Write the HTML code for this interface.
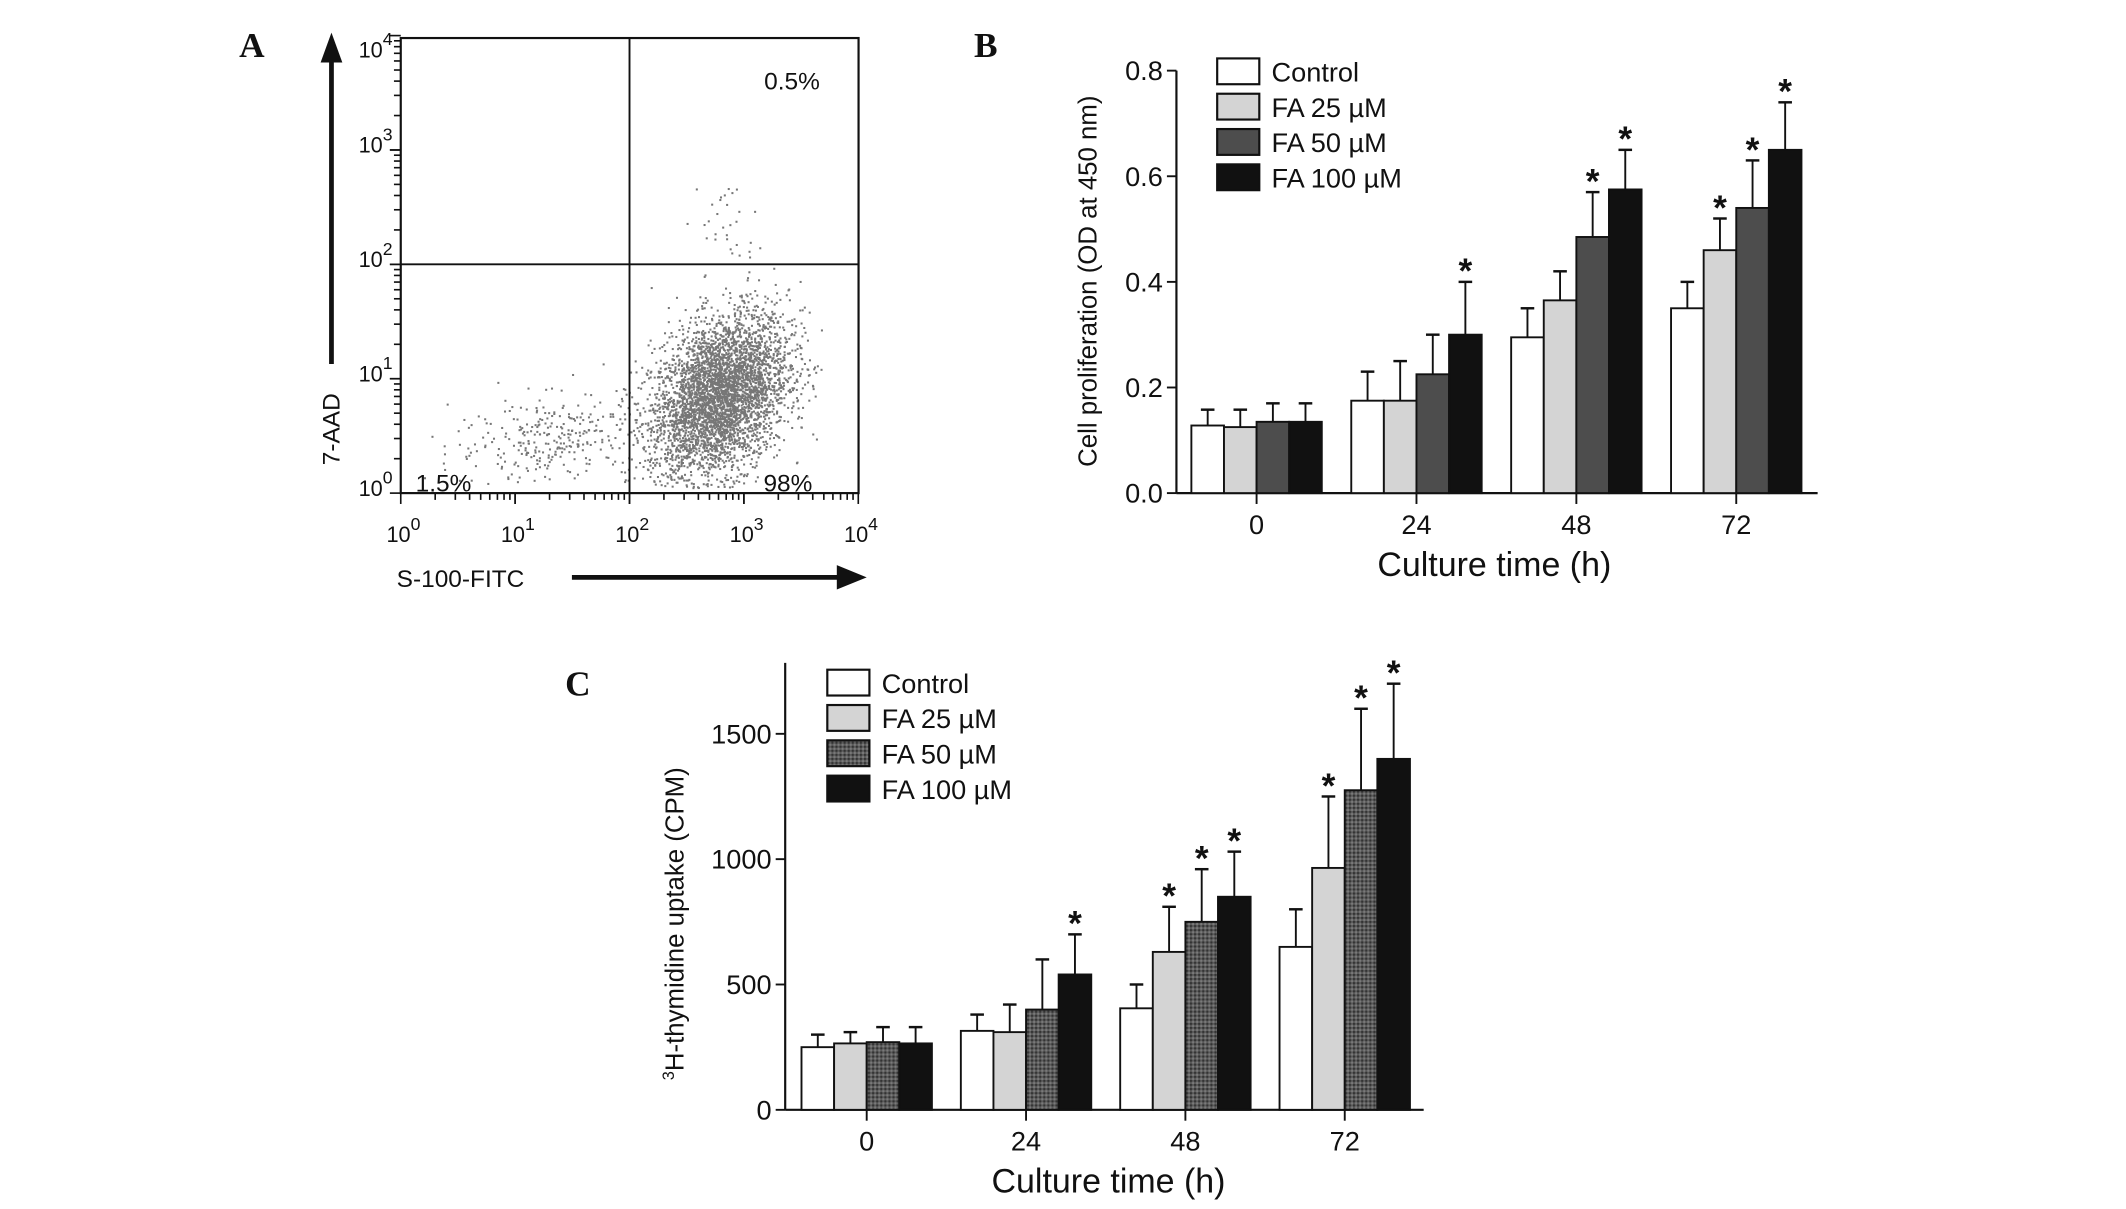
<!DOCTYPE html>
<html><head><meta charset="utf-8"><style>
html,body{margin:0;padding:0;background:#fff;}
svg{display:block;}
text{font-family:"Liberation Sans",Arial,sans-serif;fill:#111;}
</style></head><body>
<svg id="fig" width="2126" height="1209" viewBox="0 0 1565 890" preserveAspectRatio="none" xmlns="http://www.w3.org/2000/svg">
<defs>
<pattern id="dots" width="3" height="3" patternUnits="userSpaceOnUse">
<rect width="3" height="3" fill="#5a5a5a"/><rect width="1.5" height="1.5" fill="#333"/><rect x="1.5" y="1.5" width="1.5" height="1.5" fill="#7a7a7a"/>
</pattern>
</defs>
<g id="panelA"></g>
<g id="panelB"></g>
<g id="panelC"></g>
</svg>
<script>
// ---- data: panel B ----
const categories = ["0", "24", "48", "72"];
const seriesNames = ["Control", "FA 25 \u00b5M", "FA 50 \u00b5M", "FA 100 \u00b5M"];
const bValues = [[0.128, 0.125, 0.135, 0.135],[0.175, 0.175, 0.225, 0.30],[0.295, 0.365, 0.485, 0.575],[0.35, 0.46, 0.54, 0.65]];
const bErrors = [[0.03, 0.033, 0.035, 0.035],[0.055, 0.075, 0.075, 0.10],[0.055, 0.055, 0.085, 0.075],[0.05, 0.06, 0.09, 0.09]];
const bStars = [[0,0,0,0],[0,0,0,1],[0,0,1,1],[0,1,1,1]];
const bTicks = ["0.0", "0.2", "0.4", "0.6", "0.8"];
const bTickVals = [0, 0.2, 0.4, 0.6, 0.8];
// ---- data: panel C ----
const cValues = [[250, 265, 270, 265],[315, 310, 400, 540],[405, 630, 750, 850],[650, 965, 1275, 1400]];
const cErrors = [[50, 45, 60, 65],[65, 110, 200, 160],[95, 180, 210, 180],[150, 285, 325, 300]];
const cStars = [[0,0,0,0],[0,0,0,1],[0,1,1,1],[0,1,1,1]];
const cTicks = ["0", "500", "1000", "1500"];
const cTickVals = [0, 500, 1000, 1500];
// ---- data: panel A ----
const decadeLabels = ["0", "1", "2", "3", "4"];
const quadrantPercents = ["0.5%", "1.5%", "98%"];
// cluster parameters in log10 units: [centerX, centerY, sdX, sdY, count, corr]
const clusterMain = [2.78, 0.85, 0.3, 0.36, 4200, 0.35];
const clusterTail = [1.35, 0.5, 0.45, 0.2, 300, 0.3];
const clusterUpper = [2.85, 2.35, 0.13, 0.2, 30, 0.0];

const NS = "http://www.w3.org/2000/svg";
function mk(parent, tag, attrs, txt){
  const e = document.createElementNS(NS, tag);
  for (const k in attrs) e.setAttribute(k, attrs[k]);
  if (txt !== undefined) e.textContent = txt;
  parent.appendChild(e);
  return e;
}
const fills = ["#ffffff", "#d4d4d4", "#4d4d4d", "#111111"];
const fillsC = ["#ffffff", "#d4d4d4", "url(#dots)", "#111111"];

function barChart(g, o){
  const y = v => o.y0 - (v / o.ymax) * (o.y0 - o.ytop);
  const xc = i => o.gx0 + i * o.gstep;
  let ax = mk(g, "line", {x1:o.x0, y1:o.axTop, x2:o.x0, y2:o.y0, stroke:"#111", "stroke-width":1.6});
  
  
  let xa = mk(g, "line", {x1:o.x0, y1:o.y0, x2:o.x1, y2:o.y0, stroke:"#111", "stroke-width":1.6});
  
  
  o.tickVals.forEach((v, i) => {
    mk(g, "line", {x1:o.x0 - 7, y1:y(v), x2:o.x0, y2:y(v), stroke:"#111", "stroke-width":1.4});
    const t = mk(g, "text", {x:o.x0 - 10, y:y(v) + 7, "font-size":20, "text-anchor":"end"}, o.ticks[i]);
    
    
  });
  categories.forEach((c, i) => {
    mk(g, "line", {x1:xc(i), y1:o.y0, x2:xc(i), y2:o.y0 + 8, stroke:"#111", "stroke-width":1.4});
    const t = mk(g, "text", {x:xc(i), y:o.y0 + 30, "font-size":20, "text-anchor":"middle"}, c);
    
    
  });
  const bw = o.bw;
  o.values.forEach((grp, i) => {
    grp.forEach((v, j) => {
      const bx = xc(i) - 2 * bw + j * bw;
      const top = y(v), etop = y(v + o.errors[i][j]);
      const cx = bx + bw / 2;
      const el = mk(g, "line", {x1:cx, y1:top, x2:cx, y2:etop, stroke:"#111", "stroke-width":1.4});
      
      
      mk(g, "line", {x1:cx - 5, y1:etop, x2:cx + 5, y2:etop, stroke:"#111", "stroke-width":1.8});
      const r = mk(g, "rect", {x:bx, y:top, width:bw, height:o.y0 - top, fill:o.fills[j], stroke:"#111", "stroke-width":1.4});
      
      
      if (o.stars[i][j]) {
        const s = mk(g, "text", {x:cx, y:etop + 1, "font-size":26, "font-weight":"bold", "text-anchor":"middle"}, "*");
        
        
      }
    });
  });
  seriesNames.forEach((n, j) => {
    const ly = o.legY + j * 26;
    const r = mk(g, "rect", {x:o.legX, y:ly, width:31, height:19, fill:o.fills[j], stroke:"#111", "stroke-width":1.6});
    
    
    const t = mk(g, "text", {x:o.legX + 40, y:ly + 17, "font-size":20}, n);
    
    
  });
  const xt = mk(g, "text", {x:o.xTitleX, y:o.xTitleY, "font-size":25, "text-anchor":"middle"}, "Culture  time (h)");
  
  
  const yt = mk(g, "text", {x:0, y:0, "font-size":19, "text-anchor":"middle", transform:"translate(" + o.yTitleX + "," + o.yTitleY + ") rotate(-90)"});
  
  
  if (o.sup) { mk(yt, "tspan", {"font-size":12, dy:-7}, "3"); mk(yt, "tspan", {dy:7}, o.yTitle); }
  else yt.textContent = o.yTitle;
  const pl = mk(g, "text", {x:o.plX, y:o.plY, "font-size":26, "font-weight":"bold", style:"font-family:'Liberation Serif',serif"}, o.pl);
  
  
}

barChart(document.getElementById("panelB"), {
  x0:866, x1:1338, y0:363, ytop:52, ymax:0.8, axTop:52, gx0:925, gstep:117.7, bw:24,
  values:bValues, errors:bErrors, stars:bStars, ticks:bTicks, tickVals:bTickVals, fills:fills,
  legX:896, legY:43, xTitleX:1100, xTitleY:424, yTitleX:807, yTitleY:207,
  yTitle:"Cell proliferation (OD at 450 nm)", pl:"B", plX:717, plY:42
});
barChart(document.getElementById("panelC"), {
  x0:578, x1:1048, y0:817, ytop:540.2, ymax:1500, axTop:488, gx0:638, gstep:117.3, bw:24,
  values:cValues, errors:cErrors, stars:cStars, ticks:cTicks, tickVals:cTickVals, fills:fillsC,
  legX:609, legY:493, xTitleX:816, xTitleY:878, yTitleX:503, yTitleY:680, sup:true,
  yTitle:"H-thymidine uptake (CPM)", pl:"C", plX:416, plY:512
});

(function(){
  const g = document.getElementById("panelA");
  const L = 295, R = 632, T = 28, B = 363, dec = 84.2;
  const X = v => L + v * dec, Y = v => B - v * dec;
  let s = 12345;
  function rnd(){ s = (s * 1103515245 + 12345) % 2147483648; return s / 2147483648; }
  function gauss(){ return Math.sqrt(-2 * Math.log(rnd() + 1e-9)) * Math.cos(2 * Math.PI * rnd()); }
  const dots = mk(g, "g", {fill:"#777"});
  
  
  [clusterMain, clusterTail, clusterUpper].forEach(c => {
    for (let i = 0; i < c[4]; i++) {
      const a = gauss(), b = gauss();
      const lx = c[0] + c[2] * a, ly = c[1] + c[3] * (c[5] * a + Math.sqrt(1 - c[5] * c[5]) * b);
      if (lx < 0.05 || lx > 3.7 || ly < 0.05 || ly > 3.9) continue;
      mk(dots, "rect", {x:X(lx).toFixed(1), y:Y(ly).toFixed(1), width:1.5, height:1.5});
    }
  });
  const box = mk(g, "rect", {x:L, y:T, width:R - L, height:B - T, fill:"none", stroke:"#111", "stroke-width":1.6});
  
  
  const vg = mk(g, "line", {x1:X(2), y1:T, x2:X(2), y2:B, stroke:"#111", "stroke-width":1.4});
  
  
  const hg = mk(g, "line", {x1:L, y1:Y(2), x2:R, y2:Y(2), stroke:"#111", "stroke-width":1.4});
  
  
  for (let d = 0; d < 4; d++) {
    for (let m = 1; m <= 10; m++) {
      const f = Math.log10(m) + d;
      const len = (m === 1 || m === 10) ? 8 : 5;
      mk(g, "line", {x1:X(f), y1:B, x2:X(f), y2:B + len, stroke:"#111", "stroke-width":1.2});
      mk(g, "line", {x1:L - len, y1:Y(f), x2:L, y2:Y(f), stroke:"#111", "stroke-width":1.2});
    }
  }
  decadeLabels.forEach((lab, i) => {
    const tx = mk(g, "text", {x:X(i) + 2, y:B + 36, "font-size":16, "text-anchor":"middle"});
    
    
    mk(tx, "tspan", {}, "10"); mk(tx, "tspan", {dy:-9, "font-size":13}, lab);
    const ty = mk(g, "text", {x:L - 6, y:Y(i) + 2 + (i === 4 ? 14 : 0), "font-size":16, "text-anchor":"end"});
    
    
    mk(ty, "tspan", {}, "10"); mk(ty, "tspan", {dy:-9, "font-size":13}, lab);
  });
  const pos = [[583, 66, "middle"], [306, 362, "start"], [580, 362, "middle"]];
  quadrantPercents.forEach((p, i) => {
    const t = mk(g, "text", {x:pos[i][0], y:pos[i][1], "font-size":18, "text-anchor":pos[i][2]}, p);
    
    
  });
  mk(g, "line", {x1:244, y1:268, x2:244, y2:44, stroke:"#111", "stroke-width":3.5});
  mk(g, "polygon", {points:"236,46 252,46 244,24", fill:"#111"});
  const ya = mk(g, "text", {x:0, y:0, "font-size":18, "text-anchor":"middle", transform:"translate(250,316) rotate(-90)"}, "7-AAD");
  
  
  mk(g, "line", {x1:421, y1:425, x2:618, y2:425, stroke:"#111", "stroke-width":3.5});
  mk(g, "polygon", {points:"616,416 616,434 638,425", fill:"#111"});
  const xaT = mk(g, "text", {x:292, y:432, "font-size":18}, "S-100-FITC");
  
  
  const pl = mk(g, "text", {x:176, y:42, "font-size":26, "font-weight":"bold", style:"font-family:'Liberation Serif',serif"}, "A");
  
  
})();
</script>
</body></html>
